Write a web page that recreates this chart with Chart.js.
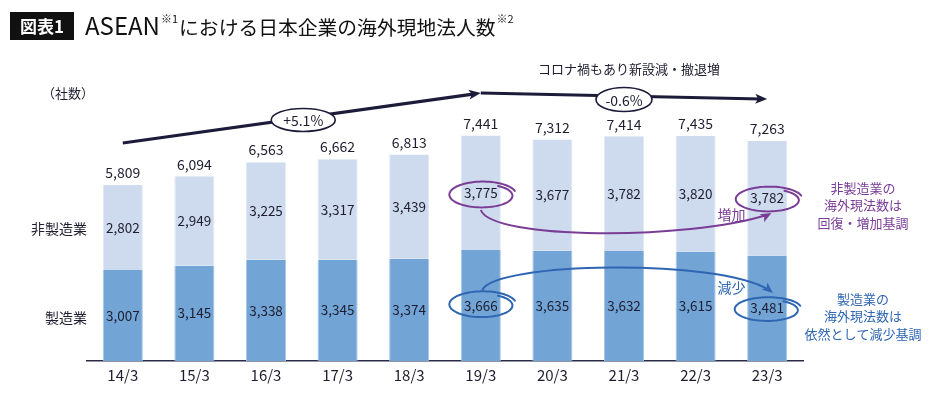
<!DOCTYPE html>
<html><head><meta charset="utf-8">
<script src="https://cdn.jsdelivr.net/npm/chart.js@4.4.1/dist/chart.umd.min.js"></script>
<style>html,body{margin:0;padding:0;background:#fff}#wrap{width:942px;height:398px;position:relative}</style>
</head><body><div id="wrap"><canvas id="c" width="942" height="398"></canvas></div>
<script>
const categories = ['14/3','15/3','16/3','17/3','18/3','19/3','20/3','21/3','22/3','23/3'];
const manufacturing = [3007,3145,3338,3345,3374,3666,3635,3632,3615,3481];
const nonManufacturing = [2802,2949,3225,3317,3439,3775,3677,3782,3820,3782];
const totals = [5809,6094,6563,6662,6813,7441,7312,7414,7435,7263];
const seriesNames = ['製造業','非製造業'];
const growthLabels = ['+5.1%','-0.6%'];

const FONT = '"Noto Sans CJK JP", "Noto Sans", sans-serif';
const NAVY = '#1c1c3a';
const PURPLE = '#7a3d96';
const BLUE = '#2f66b2';
const TXT = '#1e1e30';

function arrowHead(ctx, x1, y1, x2, y2, len, hw, color){
  const a = Math.atan2(y2-y1, x2-x1);
  ctx.save(); ctx.fillStyle = color; ctx.beginPath();
  ctx.moveTo(x2, y2);
  ctx.lineTo(x2 - len*Math.cos(a) + hw*Math.sin(a), y2 - len*Math.sin(a) - hw*Math.cos(a));
  ctx.lineTo(x2 - len*Math.cos(a)*0.75, y2 - len*Math.sin(a)*0.75);
  ctx.lineTo(x2 - len*Math.cos(a) - hw*Math.sin(a), y2 - len*Math.sin(a) + hw*Math.cos(a));
  ctx.closePath(); ctx.fill(); ctx.restore();
}
function sketchEllipse(ctx, cx, cy, rx, ry, color){
  ctx.save(); ctx.strokeStyle = color; ctx.lineWidth = 2; ctx.lineCap='round'; ctx.beginPath();
  const a0 = -1.0, span = Math.PI*2 + 0.75, n = 90;
  for (let k=0;k<=n;k++){
    const f = k/n, t = a0 + span*f, s = 0.97 + 0.13*f;
    const x = cx + rx*s*Math.cos(t), y = cy + ry*s*Math.sin(t) - 1.5*f;
    if(k===0) ctx.moveTo(x,y); else ctx.lineTo(x,y);
  }
  ctx.stroke(); ctx.restore();
}
function bubble(ctx, cx, cy, rx, ry, text){
  ctx.save();
  ctx.beginPath(); ctx.ellipse(cx, cy, rx, ry, 0, 0, Math.PI*2);
  ctx.fillStyle='#fff'; ctx.fill(); ctx.lineWidth=1.6; ctx.strokeStyle=NAVY; ctx.stroke();
  ctx.fillStyle=TXT; ctx.font='14px '+FONT; ctx.textAlign='center'; ctx.textBaseline='middle';
  ctx.fillText(text, cx, cy+1);
  ctx.restore();
}

const annot = {
  id:'annot',
  afterDatasetsDraw(chart){
    const ctx = chart.ctx, xs = chart.scales.x, ys = chart.scales.y;
    const X = i => xs.getPixelForValue(i);
    const Y = v => ys.getPixelForValue(v);
    const m0 = chart.getDatasetMeta(0).data, m1 = chart.getDatasetMeta(1).data;
    const labelPos = [[],[]];
    ctx.save();
    ctx.textAlign='center'; ctx.textBaseline='middle'; ctx.fillStyle=TXT;
    for (let i=0;i<categories.length;i++){
      const b0 = m0[i], b1 = m1[i];
      const p0 = {x:b0.x, y:(b0.y+b0.base)/2}, p1 = {x:b1.x, y:(b1.y+b1.base)/2};
      labelPos[0].push(p0); labelPos[1].push(p1);
      ctx.font='13.5px '+FONT;
      ctx.fillText(manufacturing[i].toLocaleString('en-US'), p0.x, p0.y);
      ctx.fillText(nonManufacturing[i].toLocaleString('en-US'), p1.x, p1.y);
      ctx.font='14px '+FONT;
      ctx.fillText(totals[i].toLocaleString('en-US'), b1.x, b1.y-12);
    }
    ctx.textAlign='right'; ctx.font='14px '+FONT;
    ctx.fillText(seriesNames[1], chart.chartArea.left, labelPos[1][0].y+1);
    ctx.fillText(seriesNames[0], chart.chartArea.left, labelPos[0][0].y+2);
    ctx.textAlign='left'; ctx.font='13px '+FONT;
    ctx.fillText('（社数）', 42, 93);
    ctx.restore();

    // trend arrows
    ctx.save(); ctx.strokeStyle=NAVY; ctx.lineWidth=3.2; ctx.lineCap='butt';
    const a1 = [X(0), Y(7195)], a2 = [X(5), Y(8845)], a3 = [X(9), Y(8647)];
    ctx.beginPath(); ctx.moveTo(a1[0],a1[1]); ctx.lineTo(a2[0]-6,a2[1]+0.8); ctx.stroke();
    arrowHead(ctx, a1[0],a1[1],a2[0],a2[1],12,5,NAVY);
    ctx.beginPath(); ctx.moveTo(a2[0],a2[1]); ctx.lineTo(a3[0]-6,a3[1]); ctx.stroke();
    arrowHead(ctx, a2[0],a2[1],a3[0],a3[1],12,5,NAVY);
    ctx.restore();
    bubble(ctx, X(2.52), Y(7954), 32, 11.5, growthLabels[0]);
    bubble(ctx, X(7), Y(8630), 28, 12, growthLabels[1]);
    ctx.save(); ctx.fillStyle=TXT; ctx.font='13px '+FONT; ctx.textAlign='center'; ctx.textBaseline='middle';
    ctx.fillText('コロナ禍もあり新設減・撤退増', X(7.07), Y(9637));
    ctx.restore();

    const lp = labelPos[1], lm = labelPos[0];
    sketchEllipse(ctx, lp[5].x+1, lp[5].y+3, 31, 12, PURPLE);
    sketchEllipse(ctx, lp[9].x+1, lp[9].y+2, 31, 11.5, PURPLE);
    ctx.save(); ctx.strokeStyle=PURPLE; ctx.lineWidth=2;
    let P0=[X(5), Y(4983)], P1=[X(5.15), Y(3993)], P2=[X(7.9), Y(3993)], P3=[X(9.06), Y(4884)];
    ctx.beginPath(); ctx.moveTo(...P0); ctx.bezierCurveTo(...P1,...P2,P3[0]-5,P3[1]+2); ctx.stroke();
    arrowHead(ctx, P2[0],P2[1]+18,P3[0],P3[1],11,4.5,PURPLE);
    ctx.restore();
    sketchEllipse(ctx, lm[5].x+1, lm[5].y, 31, 12, BLUE);
    sketchEllipse(ctx, lm[9].x, lm[9].y+2, 31, 11, BLUE);
    ctx.save(); ctx.strokeStyle=BLUE; ctx.lineWidth=2;
    P0=[X(5.02), Y(2343)]; P1=[X(5.2), Y(3267)]; P2=[X(8.3), Y(3399)]; P3=[X(9.08), Y(2244)];
    ctx.beginPath(); ctx.moveTo(...P0); ctx.bezierCurveTo(...P1,...P2,P3[0]-4,P3[1]-3); ctx.stroke();
    arrowHead(ctx, P2[0]+20,P2[1]+5,P3[0],P3[1],11,4.5,BLUE);
    ctx.restore();

    ctx.save(); ctx.textAlign='center'; ctx.textBaseline='middle'; ctx.font='14px '+FONT;
    ctx.fillStyle=PURPLE; ctx.fillText('増加', X(8.5), Y(4818));
    ctx.fillStyle=BLUE; ctx.fillText('減少', X(8.5), Y(2409));
    ctx.font='13px '+FONT;
    const rx = chart.chartArea.right + 60;
    ctx.fillStyle=PURPLE;
    ['非製造業の','海外現法数は','回復・増加基調'].forEach((t,k)=>ctx.fillText(t, rx, 188 + k*17.5));
    ctx.fillStyle=BLUE;
    ['製造業の','海外現法数は','依然として減少基調'].forEach((t,k)=>ctx.fillText(t, rx, 299 + k*17.3));
    ctx.restore();
  }
};

const titlePlugin = {
  id:'titleBox',
  beforeDraw(chart){
    const ctx = chart.ctx;
    ctx.save();
    ctx.fillStyle='#fff'; ctx.fillRect(0,0,chart.width,chart.height);
    ctx.fillStyle='#111'; ctx.fillRect(10,12,64,28);
    ctx.fillStyle='#fff'; ctx.font='bold 17px '+FONT; ctx.textAlign='center'; ctx.textBaseline='middle';
    ctx.fillText('図表1', 42, 26.5);
    ctx.textAlign='left'; ctx.fillStyle='#111';
    let x = 85;
    ctx.font='24px '+FONT; ctx.fillText('ASEAN', x, 26); x += ctx.measureText('ASEAN').width + 1;
    ctx.font='11px '+FONT; ctx.fillText('※1', x, 19); x += ctx.measureText('※1').width + 1;
    ctx.font='19.8px '+FONT; ctx.fillText('における日本企業の海外現地法人数', x, 27); x += ctx.measureText('における日本企業の海外現地法人数').width + 1;
    ctx.font='11px '+FONT; ctx.fillText('※2', x, 19);
    ctx.restore();
  }
};

new Chart(document.getElementById('c'), {
  type:'bar',
  data:{
    labels: categories,
    datasets:[
      {label:seriesNames[0], data:manufacturing, backgroundColor:'#72a4d6', borderColor:'#a9c6e6', borderWidth:{left:1,right:1,top:0,bottom:0}, barPercentage:0.56, categoryPercentage:1},
      {label:seriesNames[1], data:nonManufacturing, backgroundColor:'#cedbee', borderColor:'#e1e9f5', borderWidth:{left:1,right:1,top:0,bottom:0}, barPercentage:0.56, categoryPercentage:1}
    ]
  },
  options:{
    responsive:false, animation:false, devicePixelRatio:1,
    layout:{padding:{left:87, right:139, top:58, bottom:9}},
    plugins:{legend:{display:false}, tooltip:{enabled:false}, title:{display:false}},
    scales:{
      x:{stacked:true, grid:{display:false, drawTicks:false, tickLength:0}, border:{display:true, color:'#2b2b45', width:1.5},
         ticks:{color:'#1e1e30', font:{family:FONT, size:15}, padding:5}},
      y:{stacked:true, display:false, min:0, max:10000}
    }
  },
  plugins:[titlePlugin, annot]
});
</script></body></html>
